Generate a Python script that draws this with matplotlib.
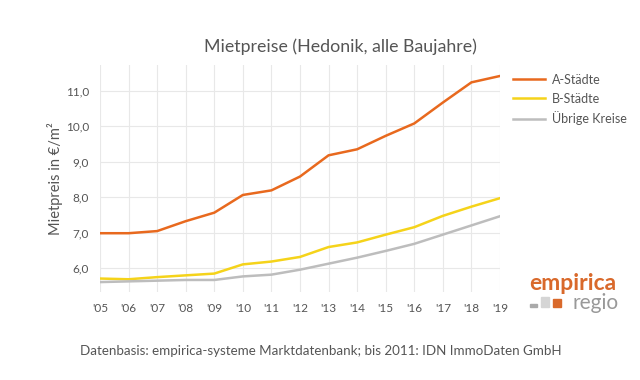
import numpy as np
import matplotlib.pyplot as plt
from matplotlib.patches import Rectangle

jahre = list(range(2005, 2020))
tick_labels = ["'05", "'06", "'07", "'08", "'09", "'10", "'11", "'12",
               "'13", "'14", "'15", "'16", "'17", "'18", "'19"]
a_staedte = [6.98, 6.98, 7.04, 7.32, 7.56, 8.06, 8.19, 8.58,
             9.18, 9.35, 9.73, 10.08, 10.67, 11.24, 11.42]
b_staedte = [5.70, 5.68, 5.74, 5.79, 5.84, 6.10, 6.18, 6.31,
             6.59, 6.72, 6.94, 7.15, 7.47, 7.73, 7.97]
uebrige = [5.60, 5.62, 5.64, 5.66, 5.66, 5.76, 5.81, 5.95,
           6.12, 6.29, 6.48, 6.68, 6.94, 7.20, 7.46]

plt.rcParams["font.family"] = ["Lato", "DejaVu Sans"]
txt = "#555555"

fig = plt.figure(figsize=(6.4, 3.8), dpi=100)
ax = fig.add_axes([100 / 640, 88 / 380, 400 / 640, 227 / 380])

ax.plot(jahre, a_staedte, color="#E8691E", lw=1.8, label="A-Städte")
ax.plot(jahre, b_staedte, color="#F5D31A", lw=1.8, label="B-Städte")
ax.plot(jahre, uebrige, color="#BDBDBD", lw=1.8, label="Übrige Kreise")

ax.set_xlim(2005, 2019)
ax.set_ylim(5.32, 11.73)
ax.set_xticks(jahre)
ax.set_xticklabels(tick_labels)
ax.set_yticks([6, 7, 8, 9, 10, 11])
ax.set_yticklabels(["6,0", "7,0", "8,0", "9,0", "10,0", "11,0"])
ax.tick_params(length=0, labelsize=8.5, colors=txt, pad=8)
ax.grid(True, color="#e8e8e8", lw=0.8)
for s in ax.spines.values():
    s.set_visible(False)
ax.set_ylabel("Mietpreis in €/m²", fontsize=10.5, color=txt, labelpad=2)

fig.text(340 / 640, 1 - 47 / 380, "Mietpreise (Hedonik, alle Baujahre)",
         ha="center", va="center", fontsize=12.8, color=txt)
fig.text(80 / 640, 1 - 351 / 380,
         "Datenbasis: empirica-systeme Marktdatenbank; bis 2011: IDN ImmoDaten GmbH",
         ha="left", va="center", fontsize=9.6, color=txt)

leg = ax.legend(loc="upper left", bbox_to_anchor=(1.01, 1.0), frameon=False,
                fontsize=9, handlelength=2.6, handletextpad=0.5,
                labelspacing=0.55, borderaxespad=0.3)
for t in leg.get_texts():
    t.set_color(txt)

# Logo
fig.text(573 / 640, 1 - 284 / 380, "empirica", ha="center", va="center",
         fontsize=16.5, fontweight="bold", color="#D9692B")
fig.text(596 / 640, 1 - 303 / 380, "regio", ha="center", va="center",
         fontsize=15, color="#999999")
fig.patches.append(Rectangle((530 / 640, 1 - 307 / 380), 7 / 640, 3 / 380,
                             transform=fig.transFigure, color="#aaaaaa"))
fig.patches.append(Rectangle((541 / 640, 1 - 307 / 380), 8 / 640, 10 / 380,
                             transform=fig.transFigure, color="#d5d5d5"))
fig.patches.append(Rectangle((553 / 640, 1 - 307 / 380), 8 / 640, 8 / 380,
                             transform=fig.transFigure, color="#D9692B"))

fig.savefig("out.png", dpi=100)
